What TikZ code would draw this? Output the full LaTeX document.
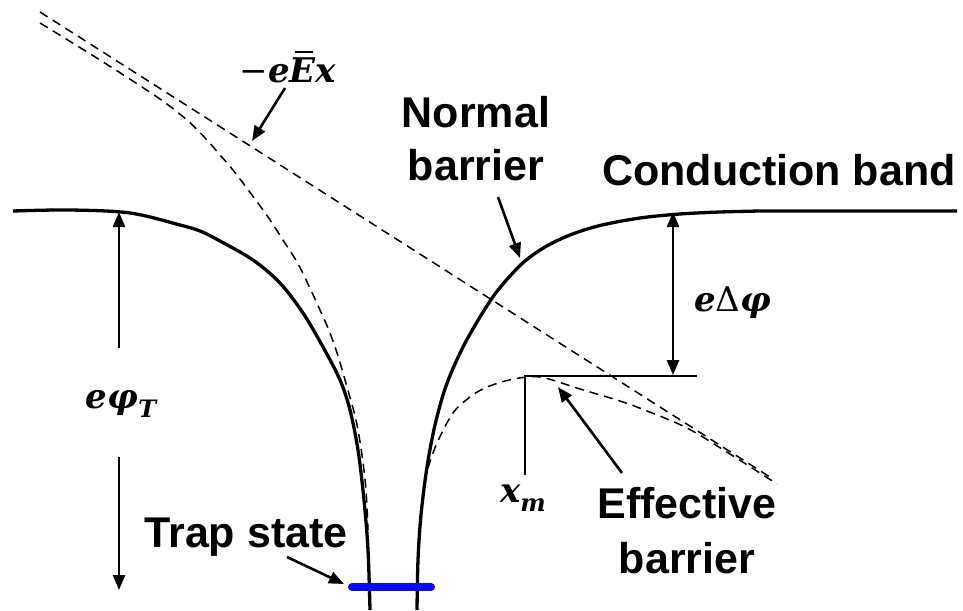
\documentclass[tikz,border=0pt]{standalone}
\usepackage{fontspec}
\newfontfamily\lab{Liberation Sans}
\newfontfamily\mfont{DejaVu Serif}
\usetikzlibrary{arrows.meta}
\newcommand\mi[1]{{\bfseries\itshape #1}}
\newcommand\subl[1]{\raisebox{-0.28em}{\fontsize{24}{26}\selectfont\mi{#1}}}
\newcommand\Ebarglyph{\ooalign{\mi{E}\cr\hskip0.16em\rule[0.86em]{0.52em}{1.6pt}\cr}}
\tikzset{
  band/.style={line width=3.3pt},
  dashcurve/.style={line width=1.5pt, dash pattern=on 9pt off 6pt},
  thinline/.style={line width=1.3pt},
  arr/.style={line width=2.6pt, -{Triangle[length=15pt,width=12pt]}},
  darr/.style={line width=2.6pt, {Triangle[length=15pt,width=12pt]}-{Triangle[length=15pt,width=12pt]}},
  lbl/.style={font=\lab\bfseries\fontsize{43}{48}\selectfont, inner sep=0pt},
  mlbl/.style={font=\mfont\fontsize{34}{40}\selectfont, inner sep=0pt},
}
\begin{document}
\begin{tikzpicture}[x=1pt,y=-1pt]
\useasboundingbox[fill=white] (0,0) rectangle (963,610);

% straight field line -eEx
\draw[dashcurve] (40,12) -- (773,479);
% left effective (dashed) curve
\draw[dashcurve] plot[smooth, tension=0.55] coordinates {(40,23) (100,60) (157,97) (187,120) (207,140) (220,155) (233,170) (252,195) (268,217) (283,240) (297,262) (308,284) (320,310) (330,333) (338,356) (347,387) (356,420) (362,455) (366,490) (368,530)};
% right effective (dashed) curve
\draw[dashcurve] plot[smooth, tension=0.6] coordinates {(428,468) (437,443) (453,413) (470,397) (485,388) (505,381) (527,377) (545,378) (580,389) (620,401) (647,411) (687,428) (730,454) (777,484)};

% left band (normal barrier)
\draw[band] plot[smooth, tension=0.55] coordinates {(13,211) (70,210) (130,213) (180,225) (200,231) (220,241) (253,260) (280,283) (303,313) (323,347) (340,380) (350,410) (358,450) (364,500) (368,550) (370,610)};
% right band
\draw[band] plot[smooth, tension=0.55] coordinates {(417,610) (418,560) (421,515) (427,467) (435,425) (446,386) (462,349) (480,317) (495,294) (510,276) (525,261) (545,247) (570,235) (600,225.5) (640,218) (680,214) (720,212) (760,211)} -- (957,211);

% x_m guide lines
\coordinate (xmtop) at (525,376);
\coordinate (xmbot) at (525,475);
\coordinate (lvl) at (697,376);
\draw[thinline] (xmbot) -- (xmtop) -- (lvl);

% e Delta phi arrow
\coordinate (dpt) at (673,212);
\coordinate (dpb) at (673,375);
\draw[darr] (dpt) -- (dpb);
\node[mlbl, anchor=base west] (dphi) at (694,311) {\mi{e}Δ\mi{φ}};

% e phi_T arrows
\coordinate (ptt) at (119,212);
\coordinate (ptu) at (119,348);
\coordinate (ptl) at (119,457);
\coordinate (ptb) at (119,590);
\draw[arr] (ptu) -- (ptt);
\draw[arr] (ptl) -- (ptb);
\node[mlbl, anchor=base] (phit) at (121,408) {\mi{eφ}\subl{T}};

% -eEx label
\node[mlbl, anchor=base] (eex) at (288,82) {−\mi{e}\Ebarglyph\mi{x}};
\coordinate (eexa) at (285,88);
\coordinate (eexb) at (252,141);
\draw[arr] (eexa) -- (eexb);

% Normal barrier
\node[lbl, anchor=base] (nb1) at (476,127) {Normal};
\node[lbl, anchor=base] (nb2) at (476,180) {barrier};
\coordinate (nba) at (498,197);
\coordinate (nbb) at (520,258);
\draw[arr] (nba) -- (nbb);

% Conduction band
\node[lbl, anchor=base west] (cb) at (602,185) {Conduction band};

% Effective barrier
\node[lbl, anchor=base] (eb1) at (687,518) {Effective};
\node[lbl, anchor=base] (eb2) at (687,573) {barrier};
\coordinate (eba) at (622,473);
\coordinate (ebb) at (558,387);
\draw[arr] (eba) -- (ebb);

% x_m
\node[mlbl, anchor=base] (xm) at (523,502) {\mi{x}\subl{m}};

% Trap state
\node[lbl, anchor=base] (ts) at (246,547) {Trap state};
\coordinate (tsa) at (287,557);
\coordinate (tsb) at (344,584);
\draw[arr] (tsa) -- (tsb);
\coordinate (trl) at (352,587);
\coordinate (trr) at (431,587);
\draw[line width=8pt, color={rgb,255:red,10;green,10;blue,240}, line cap=round] (trl) -- (trr);
\end{tikzpicture}
\end{document}
